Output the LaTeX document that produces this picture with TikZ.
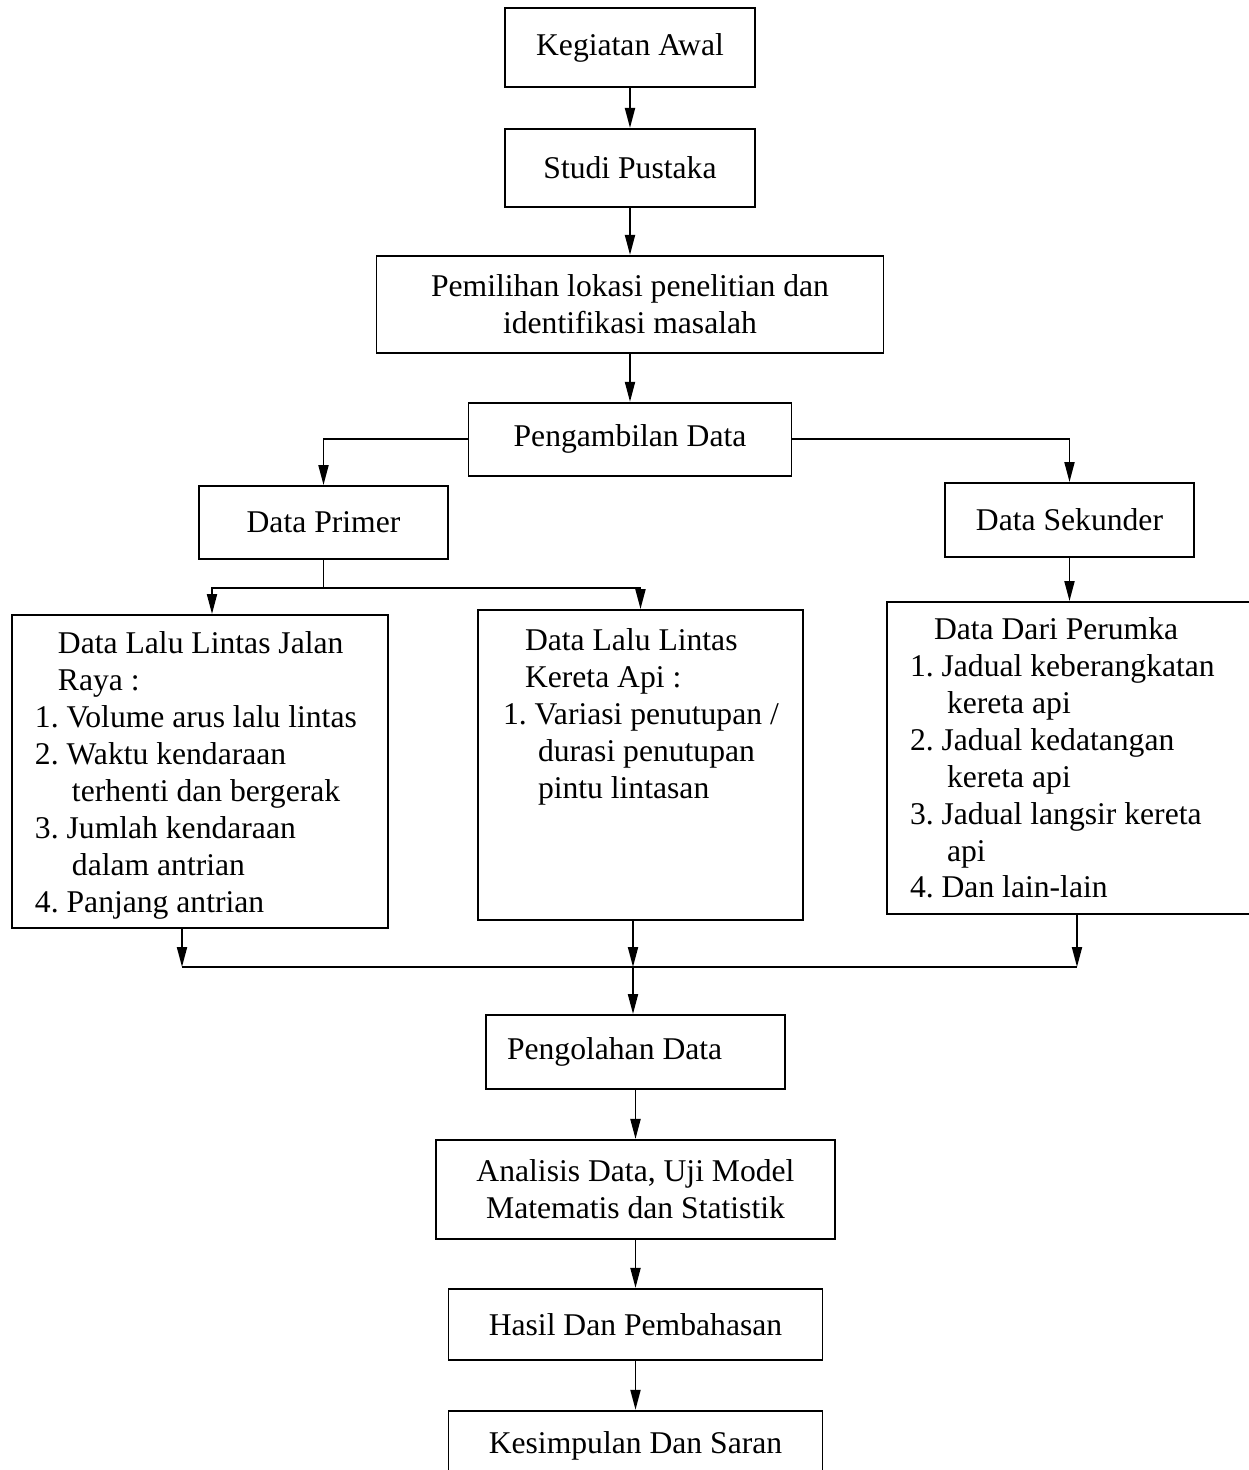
\documentclass[tikz,border=0pt]{standalone}
\usepackage{fontspec}
\setmainfont{Liberation Serif}
\frenchspacing
\usetikzlibrary{positioning,arrows.meta}
\tikzstyle{process} = [rectangle, minimum width=5cm, minimum height=1.5cm, text centered, draw=black, line width=1.1pt]
\tikzstyle{listbox} = [rectangle, draw=black, line width=1.1pt, align=flush left, inner xsep=0.06cm, inner ysep=0.1cm]
\tikzstyle{arrow} = [line width=1.1pt,->,>={Stealth[length=0.4cm,width=0.2cm,inset=0pt]}]
\tikzstyle{line} = [line width=1.1pt]

\begin{document}
\begin{tikzpicture}[font=\fontsize{18}{21}\selectfont]
\useasboundingbox (0,0) rectangle (24.98,-29.4);
\node (kegiatan) [process, minimum width=5cm, minimum height=1.58cm] at (12.6,-0.95) {Kegiatan Awal};
\node (studi) [process, minimum width=5cm, minimum height=1.56cm, below=0.8cm of kegiatan] {Studi Pustaka};
\node (pemilihan) [process, minimum width=10.14cm, minimum height=1.94cm, align=center, below=0.94cm of studi] {Pemilihan lokasi penelitian dan\\identifikasi masalah};
\node (pengambilan) [process, minimum width=6.46cm, minimum height=1.46cm, below=0.96cm of pemilihan] {Pengambilan Data};
\node (primer) [process, minimum width=4.98cm, minimum height=1.46cm] at (6.47,-10.45) {Data Primer};
\node (sekunder) [process, minimum width=4.98cm, minimum height=1.48cm] at (21.39,-10.4) {Data Sekunder};

% kotak data
\node (lalin) [listbox, text width=7.40cm, minimum height=6.26cm] at (4.0,-15.43) {\rule{0pt}{0.59cm}\hspace*{0.86cm}Data Lalu Lintas Jalan\\
\hspace*{0.86cm}Raya :\\
\hspace*{0.40cm}1. Volume arus lalu lintas\\
\hspace*{0.40cm}2. Waktu kendaraan\\
\hspace*{1.14cm}terhenti dan bergerak\\
\hspace*{0.40cm}3. Jumlah kendaraan\\
\hspace*{1.14cm}dalam antrian\\
\hspace*{0.40cm}4. Panjang antrian};
\node (kereta) [listbox, text width=6.38cm, minimum height=6.2cm] at (12.81,-15.3) {\hspace*{0.88cm}Data Lalu Lintas\\
\hspace*{0.88cm}Kereta Api :\\
\hspace*{0.44cm}1. Variasi penutupan /\\
\hspace*{1.14cm}durasi penutupan\\
\hspace*{1.14cm}pintu lintasan\rule[-2.06cm]{0pt}{2.06cm}};
\node (perumka) [listbox, text width=7.38cm, minimum height=6.24cm] at (21.49,-15.16) {\hspace*{0.88cm}Data Dari Perumka\\
\hspace*{0.40cm}1. Jadual keberangkatan\\
\hspace*{1.14cm}kereta api\\
\hspace*{0.40cm}2. Jadual kedatangan\\
\hspace*{1.14cm}kereta api\\
\hspace*{0.40cm}3. Jadual langsir kereta\\
\hspace*{1.14cm}api\\
\hspace*{0.40cm}4. Dan lain-lain};

\node (pengolahan) [process, minimum width=5.98cm, minimum height=1.48cm, text width=5.14cm, align=flush left, inner xsep=0.42cm] at (12.71,-21.04) {Pengolahan Data};
\node (analisis) [process, minimum width=7.98cm, minimum height=1.98cm, align=center, below=0.98cm of pengolahan] {Analisis Data, Uji Model\\Matematis dan Statistik};
\node (hasil) [process, minimum width=7.48cm, minimum height=1.42cm, below=0.96cm of analisis] {Hasil Dan Pembahasan};
\node (kesimpulan) [process, minimum width=7.48cm, minimum height=1.42cm, below=0.98cm of hasil] {Kesimpulan Dan Saran};

\coordinate (split) at (6.47,-11.76);
\coordinate (merge) at (12.66,-19.34);

\draw [arrow] (kegiatan) -- (studi);
\draw [arrow] (studi.south) -- (studi.south |- pemilihan.north);
\draw [arrow] (pemilihan.south) -- (pemilihan.south |- pengambilan.north);
\draw [arrow] (pengambilan.west) -| (primer.north);
\draw [arrow] (pengambilan.east) -| (sekunder.north);
\draw [line] (primer.south) -- (split);
\draw [arrow] (split) -| ([xshift=0.24cm]lalin.north);
\draw [arrow] (split) -| (kereta.north);
\draw [arrow] (sekunder.south) -- (sekunder.south |- perumka.north);
\draw [arrow] ([xshift=-0.36cm]lalin.south) -- ([xshift=-0.36cm]lalin.south |- merge);
\draw [arrow] ([xshift=-0.15cm]kereta.south) -- ([xshift=-0.15cm]kereta.south |- merge);
\draw [arrow] ([xshift=0.05cm]perumka.south) -- ([xshift=0.05cm]perumka.south |- merge);
\draw [line] ([xshift=-0.36cm]lalin.south |- merge) -- ([xshift=0.05cm]perumka.south |- merge);
\draw [arrow] (merge) -- (merge |- pengolahan.north);
\draw [arrow] (pengolahan.south) -- (pengolahan.south |- analisis.north);
\draw [arrow] (analisis.south) -- (analisis.south |- hasil.north);
\draw [arrow] (hasil) -- (kesimpulan);
\end{tikzpicture}
\end{document}
